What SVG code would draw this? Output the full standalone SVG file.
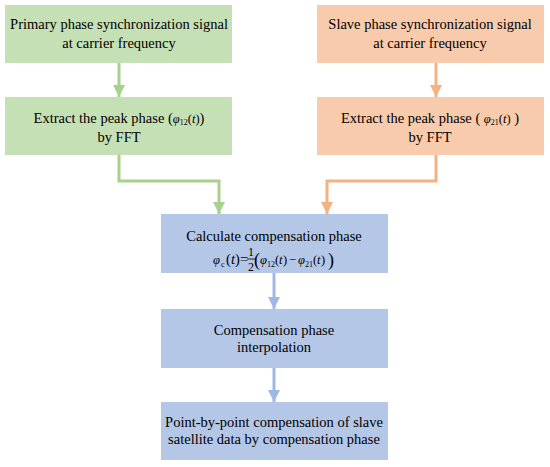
<svg xmlns="http://www.w3.org/2000/svg" width="550" height="467" viewBox="0 0 550 467">
<defs>
<style>
text{font-family:"Liberation Serif","Times New Roman",serif;font-size:14.5px;fill:#000;text-anchor:middle}
.g{fill:#c5e0b4}.o{fill:#f8cbad}.b{fill:#b4c7e7}
.lg{stroke:#a9d18e;stroke-width:3;fill:none}
.lo{stroke:#f4b183;stroke-width:3;fill:none}
.lb{stroke:#9fb8e3;stroke-width:3;fill:none}
.i{font-style:italic}
.m{font-size:12.5px}
.s{font-size:8px}
.f{text-anchor:start}
</style>
<marker id="ag" markerWidth="4" markerHeight="4" refX="4" refY="2" orient="auto" markerUnits="strokeWidth"><path d="M0,0L4,2L0,4z" fill="#a9d18e"/></marker>
<marker id="ao" markerWidth="4" markerHeight="4" refX="4" refY="2" orient="auto" markerUnits="strokeWidth"><path d="M0,0L4,2L0,4z" fill="#f4b183"/></marker>
<marker id="ab" markerWidth="4" markerHeight="4" refX="4" refY="2" orient="auto" markerUnits="strokeWidth"><path d="M0,0L4,2L0,4z" fill="#9fb8e3"/></marker>
</defs>
<g id="connectors">
<path class="lg" d="M119,63V97" marker-end="url(#ag)"/>
<path class="lo" d="M436,63V97" marker-end="url(#ao)"/>
<path class="lg" d="M119,155V181H219V214" marker-end="url(#ag)"/>
<path class="lo" d="M436,155V181H327V214" marker-end="url(#ao)"/>
<path class="lb" d="M274,273V309" marker-end="url(#ab)"/>
<path class="lb" d="M274,368V402" marker-end="url(#ab)"/>
</g>
<g id="n1"><rect class="g" x="5" y="5" width="227" height="58"/>
<text x="119" y="29">Primary phase synchronization signal</text>
<text x="119" y="48">at carrier frequency</text></g>
<g id="n2"><rect class="g" x="5" y="97" width="227" height="58"/>
<text x="119" y="123">Extract the peak phase (<tspan class="i m">φ</tspan><tspan class="s" dy="2">12</tspan><tspan class="m" dy="-2">(</tspan><tspan class="i m">t</tspan><tspan class="m">)</tspan>)</text>
<text x="119" y="142">by FFT</text></g>
<g id="n3"><rect class="o" x="317" y="5" width="227" height="58"/>
<text x="430" y="29">Slave phase synchronization signal</text>
<text x="430" y="48">at carrier frequency</text></g>
<g id="n4"><rect class="o" x="317" y="97" width="227" height="58"/>
<text x="430" y="123">Extract the peak phase ( <tspan class="i m">φ</tspan><tspan class="s" dy="2">21</tspan><tspan class="m" dy="-2">(</tspan><tspan class="i m">t</tspan><tspan class="m">)</tspan> )</text>
<text x="430" y="142">by FFT</text></g>
<g id="n5"><rect class="b" x="161" y="214" width="227" height="59"/>
<text x="274" y="241">Calculate compensation phase</text>
<text class="f" y="264"><tspan class="i m" x="213">φ</tspan><tspan class="s" x="221" y="267">c</tspan><tspan x="226" y="264">(</tspan><tspan class="i" x="231">t</tspan><tspan x="235">)</tspan><tspan x="240">=</tspan></text>
<text x="251" y="256" style="font-size:12px">1</text>
<line x1="247" y1="259" x2="255" y2="259" stroke="#000" stroke-width="0.8"/>
<text x="251" y="271" style="font-size:12px">2</text>
<text class="f" y="266" style="font-size:18px"><tspan x="254">(</tspan><tspan x="328">)</tspan></text>
<text class="f m" y="264"><tspan class="i" x="260">φ</tspan><tspan class="s" x="267" y="267">12</tspan><tspan x="275" y="264">(</tspan><tspan class="i" x="279">t</tspan><tspan x="283">)</tspan><tspan x="289">−</tspan><tspan class="i" x="298">φ</tspan><tspan class="s" x="305" y="267">21</tspan><tspan x="313" y="264">(</tspan><tspan class="i" x="317">t</tspan><tspan x="321">)</tspan></text></g>
<g id="n6"><rect class="b" x="161" y="309" width="227" height="59"/>
<text x="274" y="335">Compensation phase</text>
<text x="274" y="352">interpolation</text></g>
<g id="n7"><rect class="b" x="161" y="402" width="227" height="58"/>
<text x="274" y="427">Point-by-point compensation of slave</text>
<text x="274" y="444">satellite data by compensation phase</text></g>
</svg>
